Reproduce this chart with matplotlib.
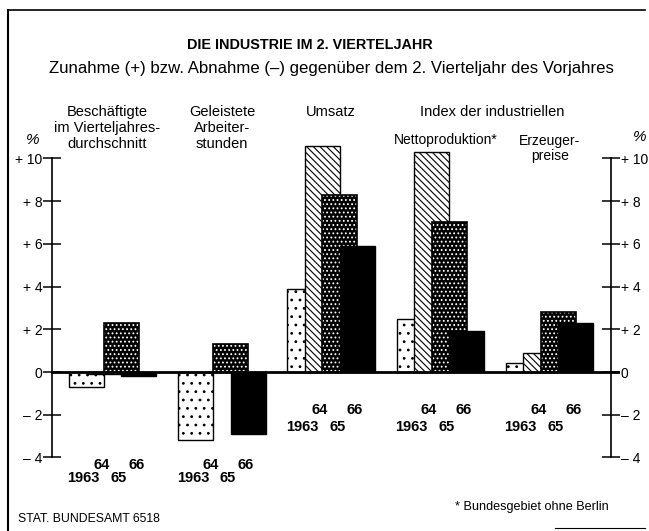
import matplotlib
matplotlib.use('Agg')
import matplotlib.pyplot as plt
from matplotlib.lines import Line2D

# Werte: Veränderung gegenüber dem 2. Vierteljahr des Vorjahres in %
groups = ['Beschäftigte\nim Vierteljahres-\ndurchschnitt', 'Geleistete\nArbeiter-\nstunden',
          'Umsatz', 'Nettoproduktion*', 'Erzeuger-\npreise']
years = ['1963', '64', '65', '66']
v1963 = [-0.7, -3.2, 3.9, 2.5, 0.4]
v1964 = [-0.1, 0.0, 10.6, 10.3, 0.9]
v1965 = [2.3, 1.3, 8.3, 7.0, 2.8]
v1966 = [-0.2, -2.9, 5.9, 1.9, 2.3]
yticks = [10, 8, 6, 4, 2, 0, -2, -4]
ytick_labels = ['+ 10', '+ 8', '+ 6', '+ 4', '+ 2', '0', '\u2013 2', '\u2013 4']

plt.rcParams['font.family'] = ['Liberation Sans', 'DejaVu Sans']
plt.rcParams['hatch.linewidth'] = 0.8

W, H = 649, 531
fig = plt.figure(figsize=(W / 100, H / 100), dpi=100)


def fit(t, width_px):
    # Schriftgröße so wählen, dass der Text die Breite wie im Original hat
    r = fig.canvas.get_renderer()
    w = t.get_window_extent(r).width
    t.set_fontsize(t.get_fontsize() * width_px / w)


# axes: 35 px per bar width, zero at y=372 px, 21.36 px per percent
ppu = 21.36
y_lo, y_hi = -5.5, 11.5
bottom_px = 372 + (-y_lo) * ppu
top_px = 372 - y_hi * ppu
ax = fig.add_axes([0, 1 - bottom_px / H, 1, (bottom_px - top_px) / H])
x0_px, bw_px = 69, 35
ax.set_xlim((0 - x0_px) / bw_px, (W - x0_px) / bw_px)
ax.set_ylim(y_lo, y_hi)
ax.patch.set_alpha(0)

gap = 109.25 / bw_px
values = [v1963, v1964, v1965, v1966]
for k, vals in enumerate(values):
    xs = [g * gap + k * 0.5 for g in range(len(vals))]
    z = 2 + k
    if k == 0:
        ax.bar(xs, vals, width=1, align='edge', color='white', edgecolor='black',
               hatch='..', linewidth=1.0, zorder=z)
    elif k == 1:
        ax.bar(xs, vals, width=1, align='edge', color='white', edgecolor='black',
               hatch='\\\\\\\\\\', linewidth=1.0, zorder=z)
    elif k == 2:
        ax.bar(xs, vals, width=1, align='edge', color='black', edgecolor='white',
               hatch='....', linewidth=0, zorder=z)
        ax.bar(xs, vals, width=1, align='edge', fill=False, edgecolor='black',
               linewidth=1.2, zorder=z)
    else:
        ax.bar(xs, vals, width=1, align='edge', color='black', edgecolor='black',
               linewidth=1.0, zorder=z)

ax.axhline(0, xmin=52 / W, xmax=618 / W, color='black', lw=2, zorder=10)

# Achsen links und rechts
left_x = (52 - x0_px) / bw_px
right_x = (611 - x0_px) / bw_px
for side in ['top', 'bottom']:
    ax.spines[side].set_visible(False)
ax.spines['left'].set_position(('data', left_x))
ax.spines['right'].set_position(('data', right_x))
for side in ['left', 'right']:
    ax.spines[side].set_bounds(-4, 10)
    ax.spines[side].set_linewidth(1.2)
ax.set_xticks([])
ax.set_yticks(yticks)
ax.set_yticklabels(ytick_labels)
ax.tick_params(axis='y', which='both', left=True, right=True, labelleft=True,
               labelright=True, direction='inout', length=13, width=1.1,
               pad=0.5, labelsize=10)
ax.text(left_x - 0.55, 10.85, '%', ha='center', va='center', fontsize=11, style='italic')
ax.text(right_x + 0.83, 11.0, '%', ha='center', va='center', fontsize=11, style='italic')

# Beschriftung der Gruppen
centers = [g * gap + 1.25 for g in range(5)]
ax.text(centers[0] - 0.15, 11.42, groups[0], ha='center', va='center', fontsize=10.5,
        linespacing=1.15)
ax.text(centers[1], 11.42, groups[1], ha='center', va='center', fontsize=10.5,
        linespacing=1.15)
ax.text(centers[2], 12.17, groups[2], ha='center', va='center', fontsize=10.5)
ax.text((492 - x0_px) / bw_px, 12.17, 'Index der industriellen', ha='center',
        va='center', fontsize=10.5)
ax.text(centers[3] + 0.15, 10.86, groups[3], ha='center', va='center', fontsize=10)
ax.text(centers[4], 10.46, groups[4], ha='center', va='center', fontsize=10,
        linespacing=1.15)

# Jahreszahlen unter den Säulen
for g in range(5):
    y_up, y_dn = (-4.35, -4.95) if g < 2 else (-1.78, -2.57)
    for k, lab in enumerate(years):
        xc = g * gap + k * 0.5 + 0.5 - 0.08
        ax.text(xc, y_up if k % 2 else y_dn, lab, ha='center', va='center',
                fontsize=10.5, fontweight='bold')

# Titel, Untertitel, Fußnoten
t = fig.text(310 / W, 1 - 45 / H, 'DIE INDUSTRIE IM 2. VIERTELJAHR', ha='center',
             va='center', fontsize=10, fontweight='bold')
fit(t, 245)
t = fig.text(331 / W, 1 - 69 / H,
             'Zunahme (+) bzw. Abnahme (\u2013) gegenüber dem 2. Vierteljahr des Vorjahres',
             ha='center', va='center', fontsize=12)
fit(t, 562)
t = fig.text(18 / W, 1 - 519 / H, 'STAT. BUNDESAMT 6518', ha='left', va='center',
             fontsize=7.5)
fit(t, 142)
t = fig.text(609 / W, 1 - 507 / H, '* Bundesgebiet ohne Berlin', ha='right', va='center',
             fontsize=9)
fit(t, 154)

# Rahmen
fig.add_artist(Line2D([8 / W, 645 / W], [1 - 10 / H, 1 - 10 / H], color='black', lw=1.2,
                      transform=fig.transFigure))
fig.add_artist(Line2D([8 / W, 8 / W], [1 - 10 / H, 0], color='black', lw=1.5,
                      transform=fig.transFigure))
fig.add_artist(Line2D([555 / W, 645 / W], [1 - 528 / H, 1 - 528 / H], color='black',
                      lw=0.8, transform=fig.transFigure))

fig.savefig('out.png', dpi=100)
